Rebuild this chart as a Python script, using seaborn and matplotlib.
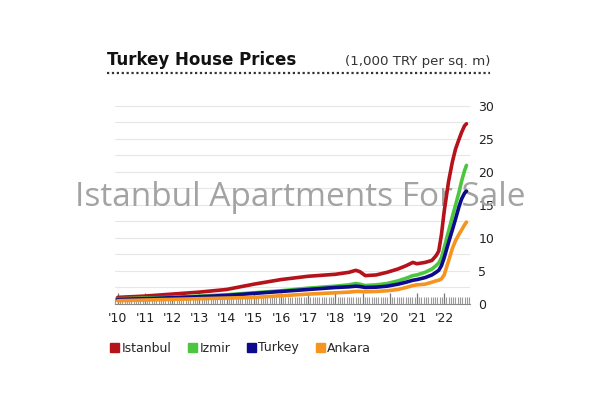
import matplotlib
matplotlib.use("Agg")
import matplotlib.pyplot as plt
import seaborn as sns
import pandas as pd
from matplotlib.lines import Line2D
from matplotlib.patches import Patch
from matplotlib.ticker import MultipleLocator, FixedLocator

# ---- data (1,000 TRY per sq. m) ----
years = [2010.0, 2011, 2012, 2013, 2014, 2015, 2016, 2017, 2018, 2018.5, 2018.75, 2018.9,
         2019.1, 2019.5, 2019.9, 2020.3, 2020.6, 2020.85, 2021.0, 2021.3, 2021.55, 2021.7,
         2021.8, 2021.9, 2022.0, 2022.16, 2022.3, 2022.42, 2022.55, 2022.64, 2022.75, 2022.82]
istanbul = [1.0, 1.2, 1.5, 1.8, 2.2, 3.0, 3.7, 4.2, 4.5, 4.8, 5.1, 4.9,
            4.3, 4.4, 4.8, 5.3, 5.8, 6.3, 6.1, 6.3, 6.6, 7.3,
            8.0, 10.5, 14.0, 18.5, 21.5, 23.5, 25.0, 26.0, 27.0, 27.3]
izmir = [0.8, 0.9, 1.0, 1.2, 1.4, 1.7, 2.0, 2.4, 2.7, 2.9, 3.1, 3.0,
         2.8, 2.9, 3.1, 3.5, 3.9, 4.3, 4.4, 4.8, 5.3, 5.8,
         6.2, 7.0, 8.5, 11.0, 13.2, 15.0, 17.0, 18.6, 20.2, 21.0]
turkey = [0.7, 0.8, 0.95, 1.1, 1.3, 1.6, 1.9, 2.2, 2.5, 2.6, 2.7, 2.65,
          2.5, 2.55, 2.7, 3.0, 3.3, 3.6, 3.7, 4.0, 4.4, 4.8,
          5.1, 5.8, 7.0, 9.3, 11.2, 12.9, 14.8, 15.9, 16.8, 17.1]
ankara = [0.5, 0.6, 0.7, 0.8, 0.9, 1.0, 1.25, 1.5, 1.7, 1.8, 1.9, 1.9,
          1.85, 1.9, 2.0, 2.2, 2.5, 2.8, 2.9, 3.0, 3.3, 3.5,
          3.6, 3.8, 4.4, 6.5, 8.4, 9.6, 10.6, 11.2, 12.0, 12.4]
cities = ["Istanbul", "Izmir", "Turkey", "Ankara"]
colors = ["#b5121b", "#4cc63f", "#0b0b8c", "#f5941e"]
year_ticks = list(range(2010, 2023))
year_labels = ["'10", "'11", "'12", "'13", "'14", "'15", "'16", "'17", "'18", "'19", "'20", "'21", "'22"]
y_ticks = [0, 5, 10, 15, 20, 25, 30]

df = pd.DataFrame({
    "year": years * 4,
    "value": istanbul + izmir + turkey + ankara,
    "city": sum([[c] * len(years) for c in cities], []),
})

sns.set_style("white")
plt.rcParams["font.family"] = ["DejaVu Sans"]

fig = plt.figure(figsize=(6, 4), dpi=100)
fig.patch.set_facecolor("white")
ax = fig.add_axes([115 / 600, 1 - 304 / 400, 355 / 600, 202 / 400])

sns.lineplot(data=df, x="year", y="value", hue="city", palette=dict(zip(cities, colors)),
             hue_order=cities, linewidth=2.6, ax=ax, legend=False, sort=False, zorder=3)

ax.set_xlim(2009.9, 2022.95)
ax.set_ylim(0, 30.6)
ax.set_xlabel("")
ax.set_ylabel("")

# grid every 2.5
ax.yaxis.set_minor_locator(MultipleLocator(2.5))
ax.yaxis.set_major_locator(FixedLocator(y_ticks))
ax.grid(True, axis="y", which="both", color="#e6e6e6", linewidth=0.8, zorder=0)
ax.grid(False, axis="x")

ax.yaxis.tick_right()
ax.tick_params(axis="y", which="both", length=0, pad=6, labelsize=9, labelcolor="#222222")

ax.set_xticks(year_ticks)
ax.set_xticklabels(year_labels)
ax.xaxis.set_minor_locator(MultipleLocator(1 / 12))
ax.tick_params(axis="x", which="major", direction="in", length=8, width=0.9, color="#777777",
               labelsize=9, labelcolor="#222222", pad=6)
ax.tick_params(axis="x", which="minor", direction="in", length=5, width=0.8, color="#9a9a9a")
ax.xaxis.set_ticks_position("bottom")

for s in ["top", "left", "right"]:
    ax.spines[s].set_visible(False)
ax.spines["bottom"].set_color("#888888")
ax.spines["bottom"].set_linewidth(0.8)

# title, subtitle, dotted rule
fig.text(107 / 600, 1 - 60 / 400, "Turkey House Prices", fontsize=12, fontweight="bold",
         color="#111111", va="center", ha="left")
fig.text(490 / 600, 1 - 61 / 400, "(1,000 TRY per sq. m)", fontsize=9.6, color="#333333",
         va="center", ha="right")
fig.add_artist(Line2D([107 / 600, 490 / 600], [1 - 73 / 400, 1 - 73 / 400],
                      transform=fig.transFigure, linestyle=(0, (1, 1.2)), linewidth=1.6,
                      color="#333333"))

# legend
handles = [Patch(facecolor=c, edgecolor=c, label=n) for n, c in zip(cities, colors)]
fig.legend(handles=handles, loc="center left", bbox_to_anchor=(99 / 600, 1 - 348 / 400),
           ncol=4, frameon=False, fontsize=9, handlelength=0.7, handleheight=0.7,
           handletextpad=0.2, columnspacing=1.35)

# watermark
ax.text(300 / 600, 1 - 198 / 400, "Istanbul Apartments For Sale", transform=fig.transFigure,
        fontsize=24, color="#a3a3a3", ha="center", va="center", family=["Open Sans", "DejaVu Sans"],
        zorder=2, clip_on=False)

fig.savefig("out.png", dpi=100, facecolor="white")
